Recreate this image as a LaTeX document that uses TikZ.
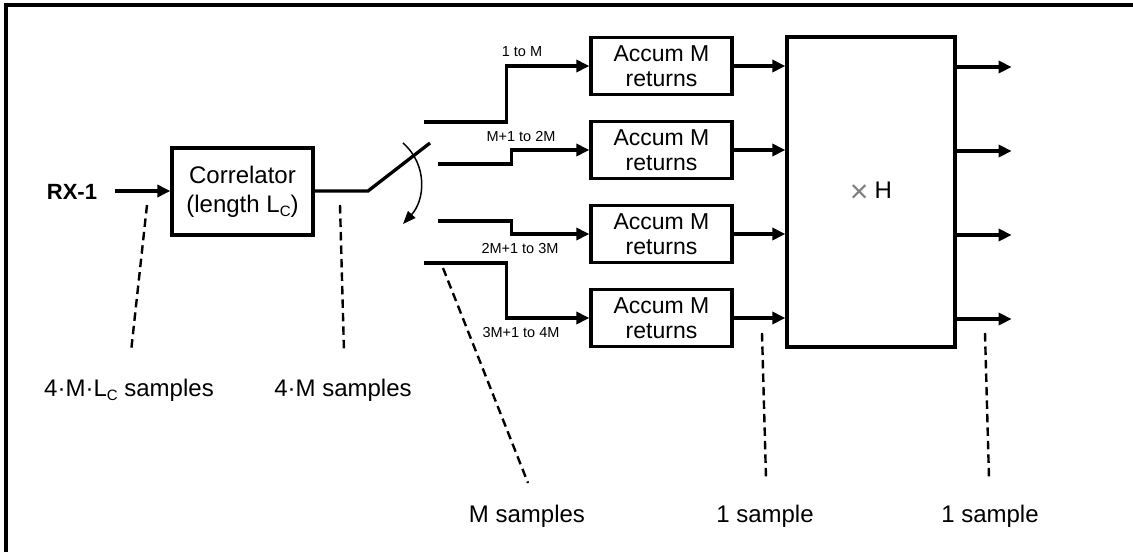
\documentclass[tikz,border=0pt]{standalone}
\usepackage{fontspec}
\setmainfont{Liberation Sans}
\usetikzlibrary{arrows.meta,calc}
% lowered small capital C used as a subscript
\newcommand\lowC{\raisebox{-0.35ex}{\fontsize{15}{15}\selectfont C}}
\begin{document}
\begin{tikzpicture}[x=1pt,y=-1pt,
  blk/.style={draw,line width=3.3pt,inner sep=0pt,align=center,font=\fontsize{23}{25}\selectfont},
  wire/.style={line width=3.3pt},
  arr/.style={wire,-{Triangle[length=13pt,width=12pt]}},
  lead/.style={line width=2.4pt,dash pattern=on 8.5pt off 5pt},
  lbl/.style={font=\fontsize{24}{28}\selectfont,inner sep=0pt},
  tag/.style={font=\fontsize{14.5}{16}\selectfont,inner sep=0pt}]
\useasboundingbox (0,0) rectangle (1133,552);

% outer frame
\draw[line width=3.3pt] (6,552) -- (6,5) -- (1133,5);

% input and correlator
\node[font=\fontsize{22}{24}\selectfont\bfseries,inner sep=0pt] (rx) at (72,192) {RX-1};
\coordinate (rxin) at (115,191);
\node[blk,minimum width=141pt,minimum height=87pt,font=\fontsize{24}{29}\selectfont] (corr) at (242.5,191.5) {Correlator\\(length L\lowC)};
\draw[arr] (rxin) -- (corr.west |- rxin);

% commutating switch
\coordinate (pivot) at (368,191);
\coordinate (armtip) at (430,143);
\draw[wire] (corr.east |- pivot) -- (pivot) -- (armtip);
\coordinate (cs) at (403,143);
\coordinate (ce) at (403,224);
\draw[line width=1.5pt,-{Triangle[length=13pt,width=10pt]}] (cs) .. controls (428,165) and (425,200) .. (ce);

% accumulators
\foreach \i/\y in {1/66,2/150,3/234,4/318}
  \node[blk,minimum width=141pt,minimum height=57pt] (acc\i) at (661.5,\y) {Accum M\\returns};

% switch contacts routed to the accumulators
\coordinate (c1) at (424,122);
\coordinate (c2) at (438,164);
\coordinate (c3) at (438,221);
\coordinate (c4) at (424,263);
\draw[arr] (c1) -| ($(acc1.west)+(-83,0)$) -- (acc1.west);
\draw[arr] (c2) -| ($(acc2.west)+(-78,0)$) -- (acc2.west);
\draw[arr] (c3) -| ($(acc3.west)+(-78,0)$) -- (acc3.west);
\draw[arr] (c4) -| ($(acc4.west)+(-83,0)$) -- (acc4.west);
\node[tag] (t1) at (522,52) {1 to M};
\node[tag] (t2) at (521,137) {M+1 to 2M};
\node[tag] (t3) at (520,249) {2M+1 to 3M};
\node[tag] (t4) at (521,333) {3M+1 to 4M};

% matrix multiply block
\node[blk,minimum width=168pt,minimum height=310pt,font=\fontsize{24}{28}\selectfont] (hbox) at (871,192) {\raisebox{-3.5pt}{\color{gray}\fontsize{32}{28}\selectfont×}\hspace{6pt}H};
\foreach \i in {1,2,3,4} {
  \draw[arr] (acc\i.east) -- (hbox.west |- acc\i.east);
  \coordinate (out\i) at ($(hbox.east |- acc\i.east)+(55,1)$);
  \draw[arr] (hbox.east |- out\i) -- (out\i);
}

% sample-rate annotations
\node[lbl] (n1) at (129,390) {4·M·L\lowC{} samples};
\node[lbl] (n2) at (343,390) {4·M samples};
\node[lbl] (n3) at (527,516) {M samples};
\node[lbl] (n4) at (765,516) {1 sample};
\node[lbl] (n5) at (990,516) {1 sample};
\coordinate (d1a) at (147,205); \coordinate (d1b) at (131,352);
\coordinate (d2a) at (340,205); \coordinate (d2b) at (344,352);
\coordinate (d3a) at (443,268); \coordinate (d3b) at (528,483);
\coordinate (d4a) at (762,333); \coordinate (d4b) at (766,478);
\coordinate (d5a) at (985,333); \coordinate (d5b) at (989,478);
\foreach \k in {1,...,5}
  \draw[lead] (d\k a) -- (d\k b);
\end{tikzpicture}
\end{document}
